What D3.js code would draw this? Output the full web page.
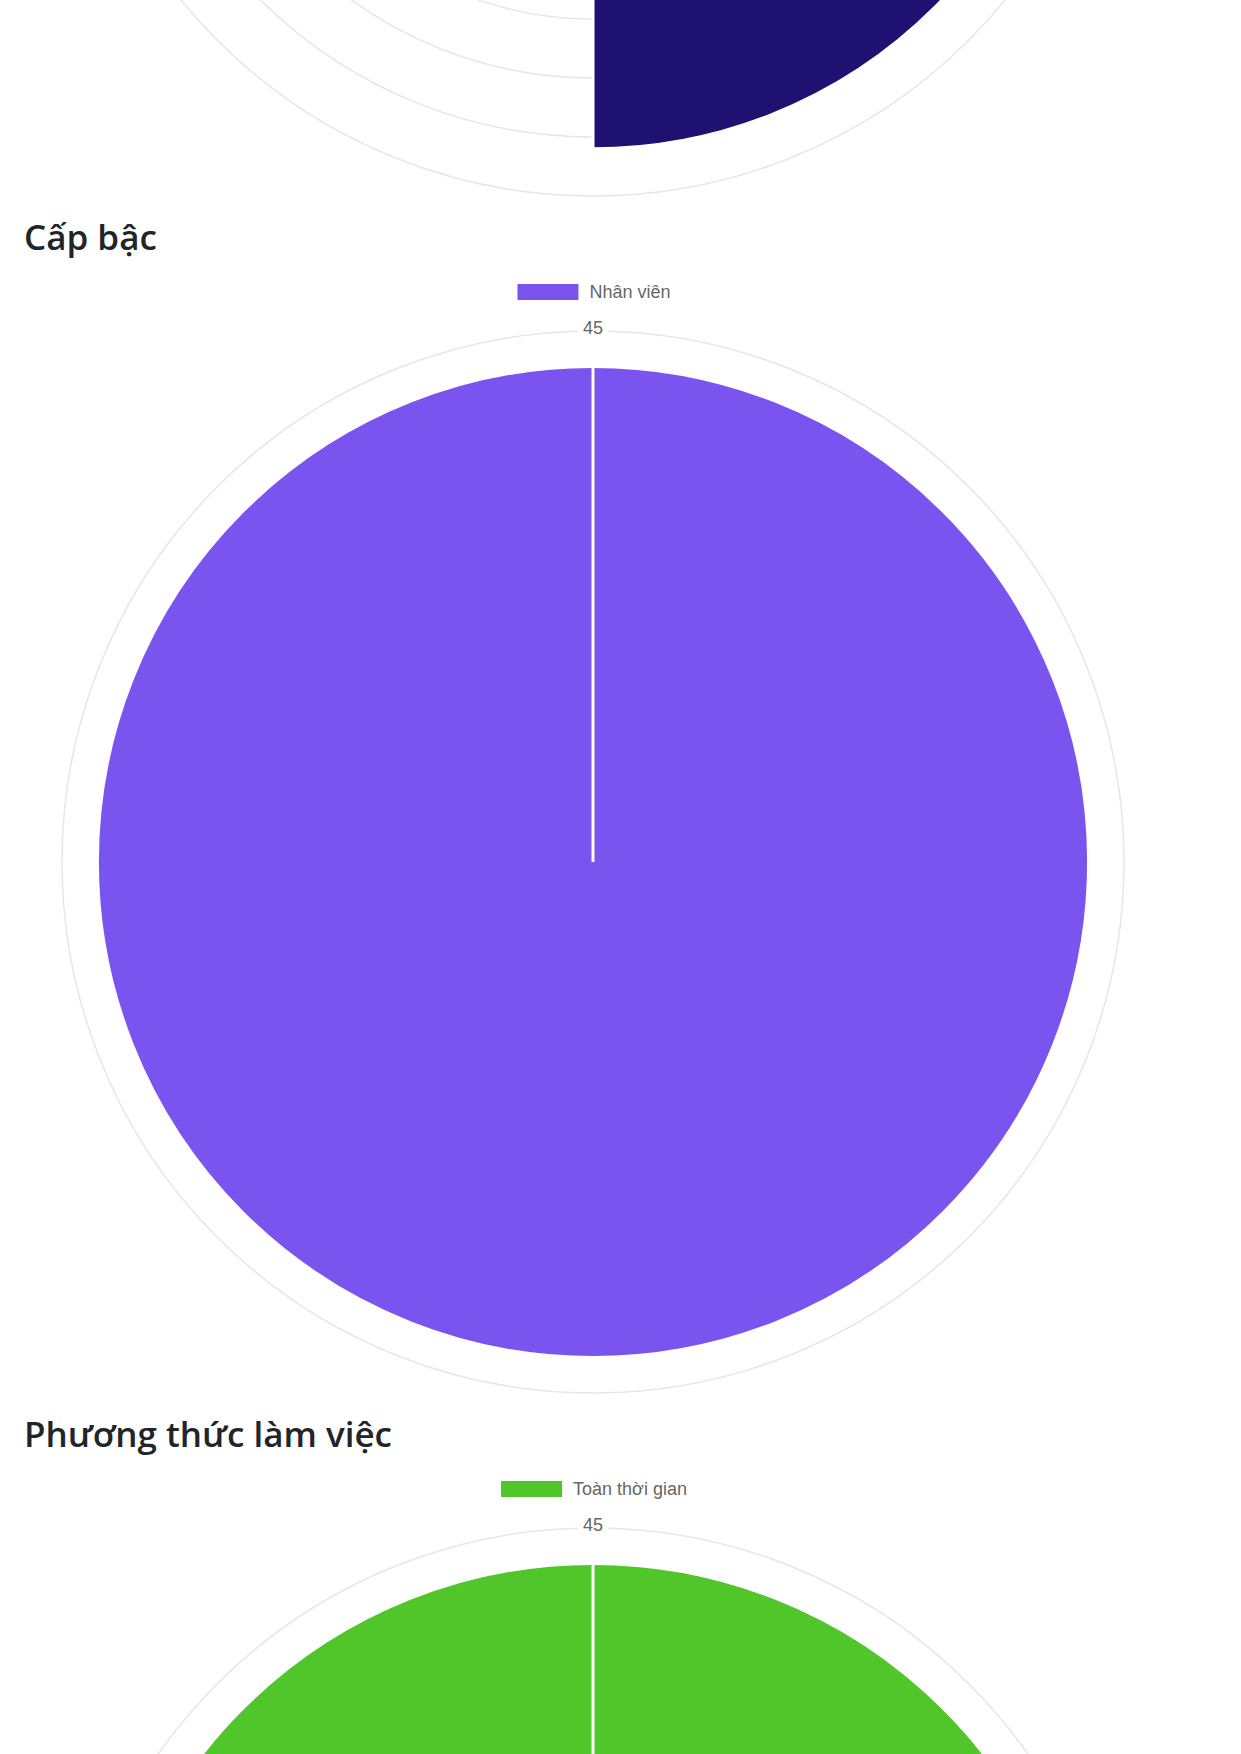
<!DOCTYPE html>
<html>
<head>
<meta charset="utf-8">
<script src="https://cdn.jsdelivr.net/npm/d3@7"></script>
<style>
  body { margin: 0; background: #fff; }
  #charts_div { width: 1241px; height: 1754px; overflow: hidden; }
</style>
</head>
<body>
<div id="charts_div"></div>
<script>
// top chart (only its lower part is on the page)
const topValues = [41, 1]
const topColors = ["#1f1172", "#8c7fd6"]

// "Cấp bậc"
const rankLabels = ["Nhân viên"]
const rankValues = [42]
const rankColors = ["#7a54ef"]

// "Phương thức làm việc"
const modeLabels = ["Toàn thời gian"]
const modeValues = [42]
const modeColors = ["#50c62a"]

const tickValues = [5, 10, 15, 20, 25, 30, 35, 40, 45]

const charts = [
  { title: null, labels: [], values: topValues, colors: topColors },
  { title: "Cấp bậc", labels: rankLabels, values: rankValues, colors: rankColors },
  { title: "Phương thức làm việc", labels: modeLabels, values: modeValues, colors: modeColors }
]

function polar_charts() {
  let set_width = 1241, set_height = 1754;
  let sectionHeight = 1197, firstBaseline = 250 - sectionHeight;
  let cx = 593, radius = 531;

  var svg = d3.select("#charts_div")
    .append("svg")
    .attr("width", set_width)
    .attr("height", set_height);

  svg.append("rect")
    .attr("width", set_width)
    .attr("height", set_height)
    .attr("fill", "#fff");

  var rScale = d3.scaleLinear()
    .domain([0, d3.max(tickValues)])
    .range([0, radius]);

  charts.forEach((c, i) => {
    let y0 = firstBaseline + i * sectionHeight;
    let cy = y0 + 612;

    if (c.title) {
      svg.append("text")
        .attr("x", 24)
        .attr("y", y0)
        .attr("font-family", "'Open Sans', sans-serif")
        .attr("font-weight", 600)
        .attr("font-size", "35px")
        .attr("fill", "#212529")
        .text(c.title);

      // legend, centred over the chart
      let legend = svg.append("g");
      let lx = 0;
      c.labels.forEach((lab, j) => {
        legend.append("rect")
          .attr("x", lx).attr("y", -8)
          .attr("width", 61).attr("height", 16)
          .attr("fill", c.colors[j]);
        let t = legend.append("text")
          .attr("x", lx + 72).attr("y", 0)
          .attr("dy", "0.35em")
          .attr("font-family", "'Liberation Sans', Arial, sans-serif")
          .attr("font-size", "18px")
          .attr("fill", "#666")
          .text(lab);
        lx += 72 + t.node().getComputedTextLength() + 15;
      });
      let lw = lx - 15;
      legend.attr("transform", `translate(${cx - lw / 2 + 1},${y0 + 42})`);
    }

    var g = svg.append("g")
      .attr("transform", `translate(${cx},${cy})`);

    // grid rings
    g.selectAll(".ring")
      .data(tickValues)
      .join("circle")
      .attr("class", "ring")
      .attr("r", d => rScale(d))
      .attr("fill", "none")
      .attr("stroke", "#e6e6e6")
      .attr("stroke-width", 1.5);

    // tick labels with backdrop: only those not hidden under a slice and on the page
    let maxVal = d3.max(c.values);
    let visibleTicks = tickValues.filter(d => d > maxVal && cy - rScale(d) > 0 && cy - rScale(d) < set_height);
    let tl = g.selectAll(".tick")
      .data(visibleTicks)
      .join("g")
      .attr("class", "tick")
      .attr("transform", d => `translate(0,${-rScale(d)})`);
    tl.append("rect")
      .attr("x", -15).attr("y", -12)
      .attr("width", 30).attr("height", 22)
      .attr("fill", "#fff");
    tl.append("text")
      .attr("text-anchor", "middle")
      .attr("y", -3)
      .attr("dy", "0.35em")
      .attr("font-family", "'Liberation Sans', Arial, sans-serif")
      .attr("font-size", "18px")
      .attr("fill", "#666")
      .text(d => d);

    // slices
    let n = c.values.length;
    let step = 2 * Math.PI / n;
    var arc = d3.arc()
      .innerRadius(0)
      .outerRadius(d => rScale(d.v))
      .startAngle(d => d.j * step)
      .endAngle(d => (d.j + 1) * step);

    let sliceData = c.values.map((v, j) => ({ v: v, j: j }));
    g.selectAll(".slice")
      .data(sliceData)
      .join("path")
      .attr("class", "slice")
      .attr("d", arc)
      .attr("fill", d => c.colors[d.j])
      .attr("stroke", "#fff")
      .attr("stroke-width", 3);

    // radial border at the start of each slice
    var radial = d3.lineRadial()
      .angle(p => p[0])
      .radius(p => p[1]);
    g.selectAll(".edge")
      .data(sliceData)
      .join("path")
      .attr("class", "edge")
      .attr("d", d => radial([[d.j * step, 0], [d.j * step, rScale(d.v)]]))
      .attr("stroke", "#fff")
      .attr("stroke-width", 3)
      .attr("fill", "none");
  });
}

polar_charts();
</script>
</body>
</html>
